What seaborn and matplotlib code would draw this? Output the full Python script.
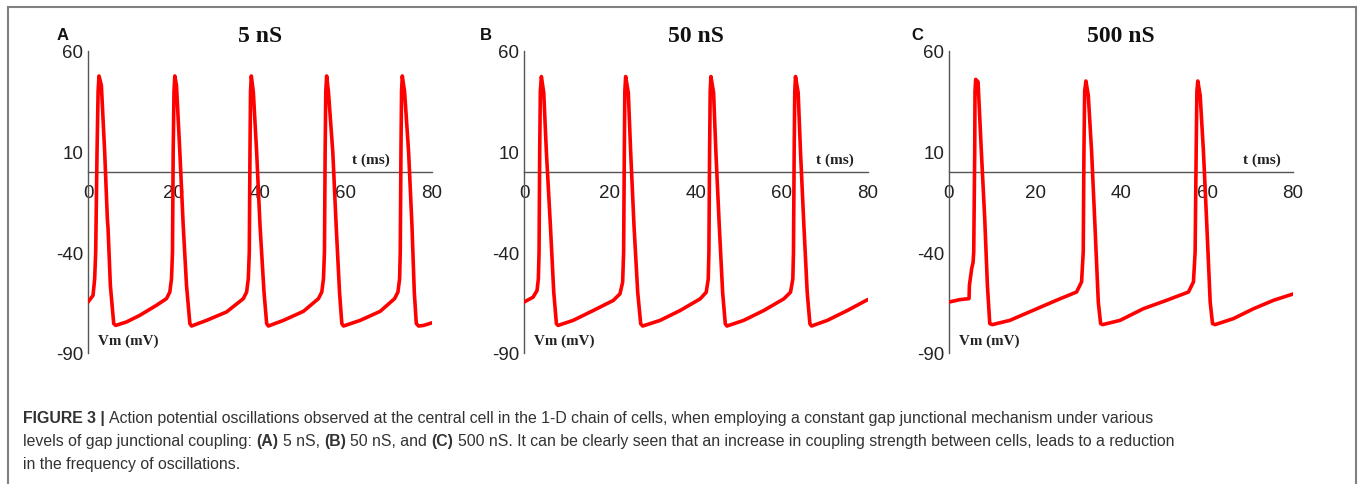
import numpy as np
import pandas as pd
import matplotlib
matplotlib.use("Agg")
import matplotlib.pyplot as plt
import seaborn as sns
from matplotlib.patches import Rectangle

# ---------------- data ----------------
titles = ["5 nS", "50 nS", "500 nS"]
panel_letters = ["A", "B", "C"]
x_ticks = [0, 20, 40, 60, 80]
y_ticks = [-90, -40, 10, 60]

t_5ns = [0, 1.17, 1.55, 1.79, 2.10, 2.35, 2.56, 3.11, 3.88, 4.50, 4.66, 5.20, 5.98, 6.45,
         8.93, 12.04, 15.92, 18.25, 19.03, 19.42, 19.65, 19.81, 20.0, 20.19, 20.58, 21.36,
         22.14, 22.91, 23.69, 24.08, 27.57, 32.23, 36.12, 36.89, 37.28, 37.51, 37.67, 37.80,
         37.98, 38.45, 39.22, 40.0, 40.93, 41.55, 41.94, 45.44, 50.10, 53.59, 54.37, 54.76,
         54.99, 55.15, 55.30, 55.50, 55.92, 56.93, 57.71, 58.49, 59.03, 59.42, 63.3, 67.96,
         71.30, 72.08, 72.47, 72.62, 72.78, 72.92, 73.09, 73.63, 74.56, 75.34, 75.88, 76.35,
         76.89, 78.06, 80.0]
v_5ns = [-64.7, -61.4, -53.1, -39.8, 9.8, 40.0, 47.6, 42.9, 9.8, -23.3, -28.0, -56.4, -75.4, -76.3,
         -74.6, -71.3, -66.3, -63.0, -59.7, -53.1, -39.8, 9.8, 40.0, 47.6, 42.9, 9.8,
         -26.6, -56.4, -75.4, -76.6, -73.8, -69.6, -63.0, -59.7, -53.1, -39.8, 9.8, 40.0,
         47.6, 39.6, 9.8, -26.6, -59.7, -75.4, -76.6, -73.8, -69.3, -63.0, -59.7, -53.1,
         -39.8, 9.8, 40.0, 47.6, 39.6, 9.8, -26.6, -59.7, -75.4, -76.6, -73.8, -69.3,
         -63.0, -59.7, -53.1, -39.8, 9.8, 40.0, 47.6, 39.6, 9.8, -26.6, -59.7, -75.4,
         -76.6, -76.3, -75.0]

t_50ns = [0, 2.10, 3.03, 3.34, 3.50, 3.65, 3.80, 4.04, 4.59, 5.21, 6.14, 6.92, 7.54, 7.93,
          11.43, 16.10, 20.76, 22.32, 22.94, 23.17, 23.33, 23.45, 23.64, 24.26, 24.81, 25.58,
          26.44, 27.14, 27.61, 31.65, 36.31, 40.98, 42.38, 42.85, 43.0, 43.16, 43.30, 43.47,
          44.09, 44.63, 45.41, 46.19, 46.81, 47.2, 51.09, 55.75, 60.42, 61.98, 62.52, 62.67,
          62.83, 62.97, 63.14, 63.76, 64.31, 65.09, 65.86, 66.49, 66.87, 70.53, 75.19, 80.0]
v_50ns = [-64.7, -62.3, -59.0, -53.2, -39.9, 9.6, 40.0, 47.3, 39.3, 9.6, -26.7, -59.8, -75.5, -76.3,
          -73.8, -68.9, -63.9, -60.6, -54.8, -39.9, 9.6, 40.0, 47.3, 39.3, 9.6, -26.7,
          -59.8, -75.5, -76.6, -73.8, -68.9, -63.1, -59.8, -53.2, -39.9, 9.6, 40.0, 47.3,
          39.3, 9.6, -26.7, -59.8, -75.5, -76.6, -73.8, -68.9, -63.1, -59.8, -53.2, -39.9,
          9.6, 40.0, 47.3, 39.3, 9.6, -26.7, -59.8, -75.5, -76.6, -73.8, -68.9, -63.4]

t_500ns = [0, 2.49, 4.66, 4.75, 5.28, 5.60, 5.75, 5.98, 6.05, 6.21, 6.76, 7.53, 8.31, 8.93,
           9.48, 10.10, 14.14, 19.57, 25.01, 29.67, 30.83, 31.22, 31.38, 31.55, 31.84, 32.39,
           33.17, 33.94, 34.72, 35.26, 35.73, 39.77, 45.20, 50.64, 55.69, 56.85, 57.24, 57.48,
           57.65, 57.86, 58.41, 59.18, 59.96, 60.74, 61.28, 61.90, 66.17, 70.83, 75.50, 80.0]
v_500ns = [-64.7, -63.5, -63.0, -56.4, -48.0, -45.0, -39.8, 9.8, 40.0, 45.9, 44.6, 9.8, -23.3, -56.4,
           -75.4, -75.9, -73.8, -68.8, -63.8, -59.7, -54.7, -39.8, 9.8, 40.0, 45.1, 38.0,
           9.8, -26.6, -64.7, -75.4, -75.9, -73.8, -68.0, -63.8, -59.7, -54.7, -39.8, 9.8,
           40.0, 45.1, 38.0, 9.8, -26.6, -64.7, -75.4, -75.9, -72.9, -68.0, -63.8, -60.7]

series_t = [t_5ns, t_50ns, t_500ns]
series_v = [v_5ns, v_50ns, v_500ns]
t_label_x = [61.5, 68.0, 68.3]

caption_lines = [
    [("FIGURE 3 |", "bold"), (" Action potential oscillations observed at the central cell in the 1-D chain of cells, when employing a constant gap junctional mechanism under various", "normal")],
    [("levels of gap junctional coupling: ", "normal"), ("(A)", "bold"), (" 5 nS, ", "normal"), ("(B)", "bold"),
     (" 50 nS, and ", "normal"), ("(C)", "bold"),
     (" 500 nS. It can be clearly seen that an increase in coupling strength between cells, leads to a reduction", "normal")],
    [("in the frequency of oscillations.", "normal")],
]

# ---------------- style ----------------
sns.set_style("white")
plt.rcParams["font.family"] = ["Liberation Sans", "DejaVu Sans"]
plt.rcParams["axes.unicode_minus"] = False

W, H = 1358, 485
fig = plt.figure(figsize=(W / 100, H / 100), dpi=100)

axes_left_px = [88, 524, 949]
ax_w = 344 / W
ax_b = 1 - 354 / H
ax_h = 302 / H
letter_x_px = [63, 486, 917]
axis_gray = "#555555"
serif = ["Liberation Serif", "DejaVu Serif"]

for i in range(3):
    ax = fig.add_axes([axes_left_px[i] / W, ax_b, ax_w, ax_h])
    df = pd.DataFrame({"t": series_t[i], "v": series_v[i]})
    sns.lineplot(data=df, x="t", y="v", ax=ax, color="#ff0000", linewidth=2.6,
                 estimator=None, sort=False, zorder=5)
    ax.set_xlim(0, 80)
    ax.set_ylim(-90, 60)
    ax.set_xticks(x_ticks)
    ax.set_yticks(y_ticks)
    ax.set_xlabel("")
    ax.set_ylabel("")
    for s in ["top", "right"]:
        ax.spines[s].set_visible(False)
    ax.spines["bottom"].set_position(("data", 0))
    for s in ["bottom", "left"]:
        ax.spines[s].set_color(axis_gray)
        ax.spines[s].set_linewidth(1.0)
    ax.tick_params(axis="both", direction="in", length=6.5, width=1.0, color=axis_gray,
                   labelsize=13.5, labelcolor="#222222")
    ax.tick_params(axis="x", pad=8.5)
    ax.tick_params(axis="y", pad=3.5)
    ax.patch.set_visible(False)
    ax.text(t_label_x[i], 3.0, "t (ms)", fontsize=11, fontweight="bold", family=serif,
            color="#222222", ha="left", va="bottom")
    ax.text(2.3, -83.6, "Vm (mV)", fontsize=10.8, fontweight="bold", family=serif,
            color="#222222", ha="left", va="center")
    cx = (axes_left_px[i] + 172) / W
    fig.text(cx, 1 - 36 / H, titles[i], fontsize=17, fontweight="bold", family=serif,
             ha="center", va="center", color="#111111")
    fig.text(letter_x_px[i] / W, 1 - 35 / H, panel_letters[i], fontsize=12, fontweight="bold",
             ha="center", va="center", color="#111111")

# figure border
fig.patches.append(Rectangle((8 / W, -0.02), (1356 - 8) / W, 1 - 8 / H + 0.02,
                             transform=fig.transFigure, fill=False,
                             edgecolor="#808080", linewidth=1.5))

# caption with mixed bold / regular
renderer = fig.canvas.get_renderer()
cap_size = 11.45
cap_color = "#333333"


def measure(s, weight):
    t = fig.text(0, 0, s, fontsize=cap_size, fontweight=weight)
    w = t.get_window_extent(renderer).width
    t.remove()
    return w


space_w = measure("a a", "normal") - measure("aa", "normal")
line_y_px = [418, 442, 465]
for parts, ypx in zip(caption_lines, line_y_px):
    x = 23.0
    for s, weight in parts:
        lead = len(s) - len(s.lstrip(" "))
        trail = len(s) - len(s.rstrip(" "))
        core = s.strip(" ")
        x += lead * space_w
        t = fig.text(x / W, 1 - ypx / H, core, fontsize=cap_size, fontweight=weight,
                     color=cap_color, ha="left", va="center")
        x += t.get_window_extent(renderer).width
        x += trail * space_w

fig.savefig("out.png", dpi=100)
